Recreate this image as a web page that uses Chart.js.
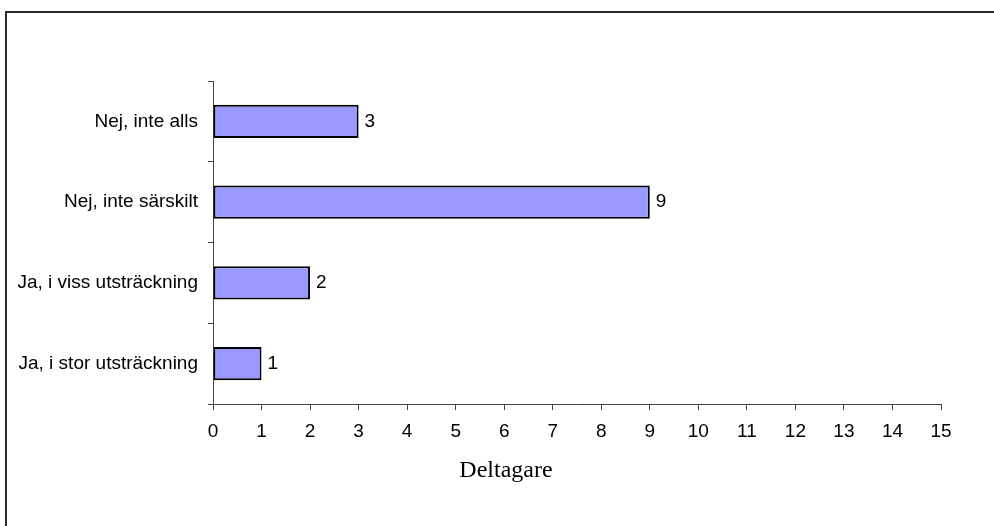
<!DOCTYPE html>
<html>
<head>
<meta charset="utf-8">
<script src="https://cdn.jsdelivr.net/npm/chart.js@4.4.0/dist/chart.umd.min.js"></script>
<style>
  html, body { margin: 0; padding: 0; background: #fff; overflow: hidden; }
  #wrap { position: relative; width: 994px; height: 526px; overflow: hidden; }
  #frame { position: absolute; left: 5px; top: 11px; width: 1100px; height: 700px; border: 2px solid #2a2a2a; box-sizing: border-box; }
  canvas { position: absolute; left: 0; top: 0; }
</style>
</head>
<body>
<div id="wrap">
  <div id="frame"></div>
  <canvas id="c" width="994" height="526"></canvas>
</div>
<script>
const categories = ["Nej, inte alls", "Nej, inte särskilt", "Ja, i viss utsträckning", "Ja, i stor utsträckning"];
const participants = [3, 9, 2, 1];
const xTicks = [0, 1, 2, 3, 4, 5, 6, 7, 8, 9, 10, 11, 12, 13, 14, 15];
const axisTitle = "Deltagare";

const valueLabels = {
  id: 'valueLabels',
  afterDatasetsDraw(chart) {
    const ctx = chart.ctx;
    const meta = chart.getDatasetMeta(0);
    ctx.save();
    ctx.font = '19px "Liberation Sans", Arial, sans-serif';
    ctx.fillStyle = '#000';
    ctx.textAlign = 'left';
    ctx.textBaseline = 'middle';
    meta.data.forEach((bar, i) => {
      ctx.fillText(String(participants[i]), bar.x + 6, bar.y);
    });
    ctx.restore();
  }
};

// Axis title, centred on the chart frame (as in the original), below the tick labels
const axisTitlePlugin = {
  id: 'axisTitlePlugin',
  afterDraw(chart) {
    const ctx = chart.ctx;
    ctx.save();
    ctx.font = '24px "Liberation Serif", "Times New Roman", serif';
    ctx.fillStyle = '#000';
    ctx.textAlign = 'center';
    ctx.textBaseline = 'middle';
    ctx.fillText(axisTitle, chart.width / 2 + 9, chart.chartArea.bottom + 67);
    ctx.restore();
  }
};

new Chart(document.getElementById('c'), {
  type: 'bar',
  data: {
    labels: categories,
    datasets: [{
      data: participants,
      backgroundColor: '#9999FF',
      borderColor: '#000000',
      borderWidth: 2,
      borderSkipped: false,
      barPercentage: 0.41,
      categoryPercentage: 1.0
    }]
  },
  options: {
    indexAxis: 'y',
    responsive: false,
    animation: false,
    layout: { padding: { top: 81, right: 53, left: 0, bottom: 0 } },
    plugins: {
      legend: { display: false },
      tooltip: { enabled: false },
      title: { display: false }
    },
    scales: {
      x: {
        type: 'linear',
        min: 0,
        max: 15,
        afterBuildTicks: (s) => { s.ticks = xTicks.map(v => ({ value: v })); },
        afterFit: (s) => { s.height = 122; },
        ticks: {
          color: '#000',
          padding: 10,
          font: { family: '"Liberation Sans", Arial, sans-serif', size: 19 },
          maxRotation: 0,
          autoSkip: false
        },
        grid: { drawOnChartArea: false, drawTicks: true, tickLength: 6, color: '#444', lineWidth: 1 },
        border: { display: true, color: '#444', width: 1 }
      },
      y: {
        type: 'category',
        offset: true,
        afterFit: (s) => { s.width = 213; },
        ticks: {
          color: '#000',
          padding: 10,
          font: { family: '"Liberation Sans", Arial, sans-serif', size: 19 },
          autoSkip: false
        },
        grid: { offset: true, drawOnChartArea: false, drawTicks: true, tickLength: 5, color: '#444', lineWidth: 1 },
        border: { display: true, color: '#444', width: 1 }
      }
    }
  },
  plugins: [valueLabels, axisTitlePlugin]
});
</script>
</body>
</html>
